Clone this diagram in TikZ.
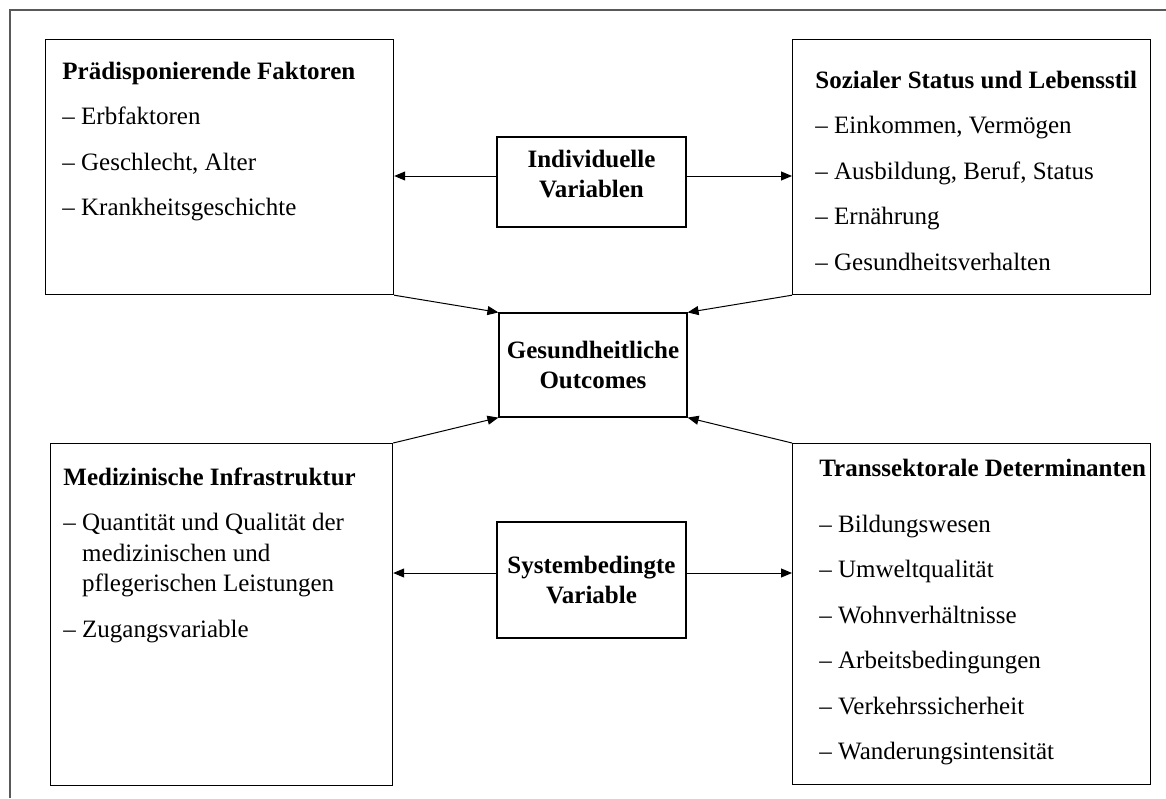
\documentclass[tikz,border=0pt]{standalone}
\usepackage{fontspec}
\setmainfont{Liberation Serif}
\usetikzlibrary{arrows.meta}

\tikzset{
  box/.style={draw, line width=0.6pt, rectangle, inner sep=0pt},
  listtext/.style={align=left, inner sep=0pt, font=\fontsize{12.5}{22.75}\selectfont},
  midbox/.style={box, align=center, font=\fontsize{12.5}{15}\selectfont\bfseries},
  arr/.style={-{Triangle[length=5.5pt,width=4.5pt]}, line width=0.5pt}
}

\begin{document}
\begin{tikzpicture}[x=0.5pt, y=-0.5pt]
	\useasboundingbox (0,0) rectangle (1166,798);
	% frame
	\draw[line width=0.75pt, black!65] (10,798) -- (10,10) -- (1166,10);

	% the four outer boxes
	\node[box, anchor=north west, minimum width=174pt, minimum height=127.5pt] (pre) at (45,39) {};
	\node[box, anchor=north west, minimum width=179pt, minimum height=127.5pt] (soz) at (792,39) {};
	\node[box, anchor=north west, minimum width=171pt, minimum height=171pt] (med) at (50,443) {};
	\node[box, anchor=north west, minimum width=179pt, minimum height=170.5pt] (trans) at (792,443) {};

	% texts, placed by the baseline of their last line
	\node[listtext, anchor=base west] (pretxt) at (62,215.5) {\textbf{Prädisponierende Faktoren}\\
		– Erbfaktoren\\ – Geschlecht, Alter\\ – Krankheitsgeschichte};
	\node[listtext, anchor=base west] (soztxt) at (815,270) {\textbf{Sozialer Status und Lebensstil}\\
		– Einkommen, Vermögen\\ – Ausbildung, Beruf, Status\\ – Ernährung\\ – Gesundheitsverhalten};
	\node[listtext, anchor=base west] (medtxt) at (63,637) {\textbf{Medizinische Infrastruktur}\\
		– Quantität und Qualität der\\[-7.5pt] \hspace*{9.4pt}medizinischen und\\[-7.5pt]
		\hspace*{9.4pt}pflegerischen Leistungen\\ – Zugangsvariable};
	\node[listtext, anchor=base west] (transtxt) at (819,759.5) {\textbf{Transsektorale Determinanten}\\[5.25pt]
		– Bildungswesen\\ – Umweltqualität\\ – Wohnverhältnisse\\ – Arbeitsbedingungen\\
		– Verkehrssicherheit\\ – Wanderungsintensität};

	% middle column
	\node[midbox, minimum width=94.5pt, minimum height=45pt, text depth=8.5pt] (ind) at (591.5,182) {Individuelle\\Variablen};
	\node[midbox, minimum width=94pt, minimum height=52pt] (ges) at (593,365) {Gesundheitliche\\Outcomes};
	\node[midbox, minimum width=94.5pt, minimum height=58pt] (sys) at (591.5,580) {Systembedingte\\Variable};

	% arrows
	\draw[arr] ([yshift=3pt]ind.west) -- ([yshift=3pt]ind.west -| pre.east);
	\draw[arr] ([yshift=3pt]ind.east) -- ([yshift=3pt]ind.east -| soz.west);
	\draw[arr] ([yshift=3.5pt]sys.west) -- ([yshift=3.5pt]sys.west -| med.east);
	\draw[arr] ([yshift=3.5pt]sys.east) -- ([yshift=3.5pt]sys.east -| trans.west);

	\draw[arr] (pre.south east) -- (ges.north west);
	\draw[arr] (soz.south west) -- (ges.north east);
	\draw[arr] (med.north east) -- (ges.south west);
	\draw[arr] (trans.north west) -- (ges.south east);
\end{tikzpicture}
\end{document}
